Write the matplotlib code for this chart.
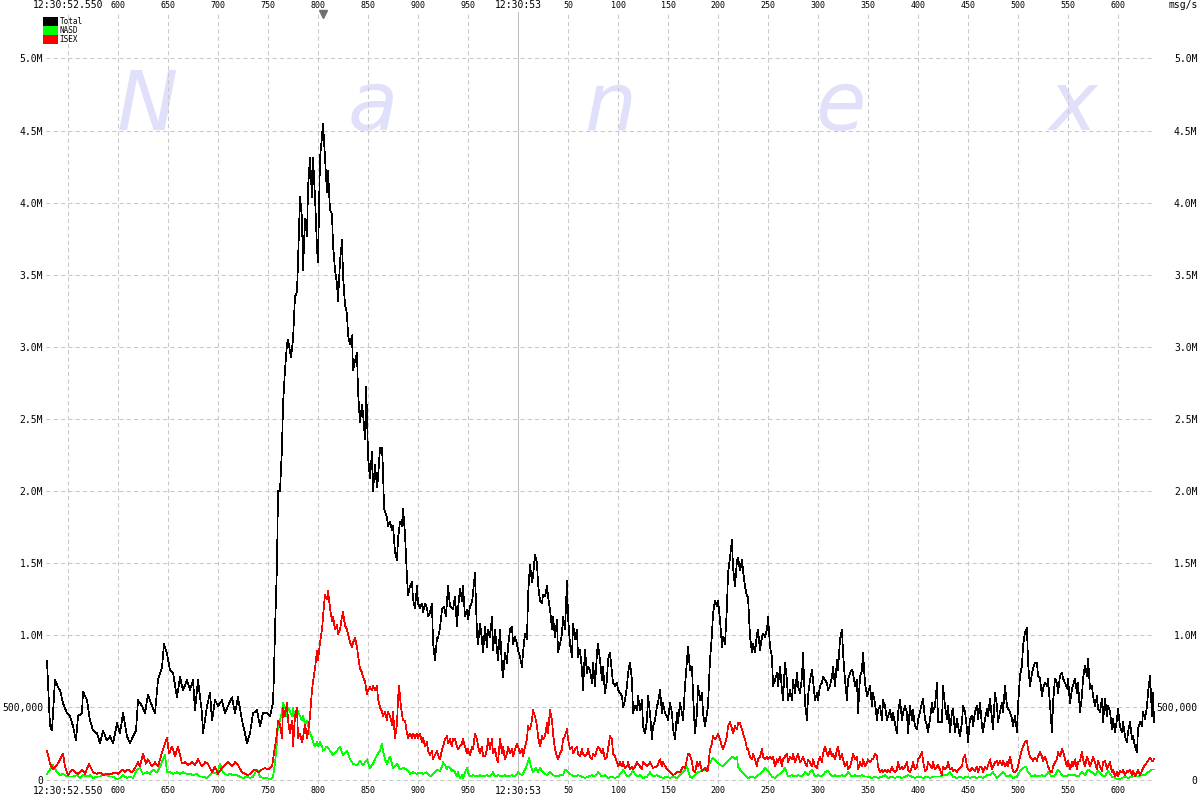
import matplotlib
matplotlib.use("Agg")
import matplotlib.pyplot as plt
import matplotlib.transforms as mtransforms
from matplotlib.patches import Patch

# message rates in millions of msg/s, time in ms after 12:30:52
total_t = [529, 532, 534, 537, 540, 542, 545, 549, 552, 555, 558, 560, 564, 565, 569, 572, 575, 579, 582, 585,
           589, 592, 595, 599, 602, 605, 609, 612, 615, 618, 620, 624, 627, 630, 634, 637, 640, 644, 646, 649,
           652, 655, 659, 662, 665, 669, 672, 675, 677, 680, 684, 685, 689, 692, 694, 697, 700, 704, 707, 710,
           714, 717, 720, 724, 727, 729, 732, 735, 739, 742, 745, 749, 752, 755,
           756, 757, 759, 760, 762, 764, 765, 767, 769, 770, 773, 775, 776, 777, 779, 780, 782, 784, 785, 787,
           789, 790, 792, 794, 795, 797, 799, 800, 802, 804, 805, 807, 809, 810, 812, 814, 815, 817, 819, 820,
           822, 824, 825, 827, 829, 830, 832, 834, 835, 837, 839, 840, 842, 844, 845, 847, 848, 849, 850, 852,
           854, 855, 857, 859, 860, 862, 864, 865, 866, 869, 870, 872, 874, 875, 877, 879, 880, 882, 884, 885,
           887, 889, 890, 892, 894, 895, 897, 899, 900, 902, 904, 905, 907, 909, 910, 912, 914, 915, 917, 919, 920,
           922, 924, 926, 928, 930, 932, 935, 937, 939, 940, 942, 944, 945, 947, 949, 950, 952, 954, 955, 957,
           959, 960, 962, 964, 965, 967, 969, 970, 972, 974, 975, 977, 979, 980, 982, 984, 985, 987, 989, 990,
           992, 994, 995, 997, 999, 1000, 1002, 1004, 1005, 1007, 1009, 1010, 1012, 1014, 1015, 1017, 1019, 1020,
           1022, 1024, 1025, 1027, 1029, 1030, 1032, 1034, 1035, 1037, 1039, 1040, 1042, 1044, 1045, 1047, 1049,
           1050, 1052, 1054, 1055, 1057, 1059, 1060, 1062, 1064, 1065, 1067, 1069, 1070, 1072, 1074, 1075, 1077,
           1079, 1080, 1082, 1084, 1085, 1087, 1089, 1090, 1092, 1094, 1095, 1097, 1099, 1100, 1102, 1104, 1105,
           1107, 1109, 1110, 1112, 1114, 1115, 1117, 1119, 1120, 1122, 1124, 1125, 1127, 1129, 1130, 1132, 1134,
           1135, 1137, 1139, 1140, 1142, 1144, 1145, 1147, 1149, 1150, 1152, 1154, 1155, 1157, 1159, 1160,
           1162, 1164, 1165, 1167, 1169, 1170, 1172, 1174, 1175, 1177, 1179, 1180, 1182, 1184, 1185, 1187, 1189,
           1190, 1192, 1194, 1195, 1197, 1199, 1200, 1202, 1204, 1205, 1207, 1209, 1210, 1212, 1214, 1215, 1217,
           1219, 1220, 1222, 1224, 1225, 1227, 1229, 1230, 1232, 1234, 1235, 1237, 1239, 1240, 1242, 1244, 1245,
           1247, 1249, 1250, 1252, 1254, 1255, 1257, 1259, 1260, 1262, 1264, 1265, 1267, 1269, 1270, 1272, 1274,
           1275, 1277, 1279, 1280, 1282, 1284, 1285, 1287, 1289, 1290, 1292, 1294, 1295, 1297, 1299, 1300, 1302,
           1304, 1305, 1307, 1309, 1310, 1312, 1314, 1315, 1317, 1319, 1320, 1322, 1324, 1325, 1327, 1329, 1330,
           1332, 1334, 1335, 1337, 1339, 1340, 1342, 1344, 1345, 1347, 1349, 1350, 1352, 1354, 1355, 1357, 1359,
           1360, 1362, 1364, 1365, 1367, 1369, 1370, 1372, 1374, 1375, 1377, 1379, 1380, 1382, 1384, 1385, 1387,
           1389, 1390, 1392, 1394, 1395, 1397, 1399, 1400,
           1402, 1404, 1405, 1407, 1409, 1410, 1412, 1414, 1415, 1417, 1419, 1420, 1422, 1424, 1425, 1427, 1429,
           1430, 1432, 1434, 1435, 1437, 1439, 1440, 1442, 1444, 1445, 1447, 1449, 1450, 1452, 1454, 1455, 1457,
           1459, 1460, 1462, 1464, 1465, 1467, 1469, 1470, 1472, 1474, 1475, 1477, 1479, 1480, 1482, 1484, 1485,
           1487, 1489, 1490, 1492, 1494, 1495, 1497, 1499, 1500, 1502, 1504, 1505, 1507, 1509, 1510, 1512, 1514,
           1515, 1517, 1519, 1520, 1522, 1524, 1525, 1527, 1529, 1530, 1532, 1534, 1535, 1537, 1539, 1540, 1542,
           1544, 1545, 1547, 1549, 1550, 1552, 1554, 1555, 1557, 1559, 1560, 1562, 1564, 1565, 1567, 1569, 1570,
           1572, 1574, 1575, 1577, 1579, 1580, 1582, 1584, 1585, 1587, 1589, 1590, 1592, 1594, 1595, 1597, 1599,
           1600, 1602, 1604, 1605, 1607, 1609, 1610, 1612, 1614, 1615, 1617, 1619, 1620, 1622, 1624, 1625, 1627,
           1629, 1630, 1632, 1634, 1635, 1636]
total_v = [0.82, 0.37, 0.34, 0.69, 0.64, 0.62, 0.53, 0.46, 0.44, 0.37, 0.27, 0.44, 0.46, 0.61, 0.55, 0.41, 0.34, 0.32, 0.25, 0.34,
           0.27, 0.30, 0.25, 0.39, 0.32, 0.46, 0.30, 0.25, 0.30, 0.34, 0.55, 0.51, 0.46, 0.59, 0.51, 0.46, 0.69, 0.78, 0.94, 0.87,
           0.76, 0.74, 0.57, 0.71, 0.62, 0.69, 0.62, 0.69, 0.48, 0.69, 0.46, 0.32, 0.51, 0.60, 0.41, 0.55, 0.51, 0.55, 0.46, 0.51,
           0.57, 0.46, 0.57, 0.41, 0.32, 0.25, 0.32, 0.46, 0.48, 0.37, 0.46, 0.46, 0.44, 0.53,
           0.74, 1.04, 1.49, 2.0, 2.0, 2.3, 2.6, 2.84, 3.02, 3.05, 2.93, 3.05, 3.2, 3.35, 3.38, 3.59, 4.04, 3.89, 3.53, 3.89,
           3.77, 4.1, 4.31, 4.04, 4.31, 4.04, 3.68, 3.59, 4.31, 4.46, 4.55, 4.31, 4.07, 4.22, 3.95, 3.92, 3.71, 3.53, 3.44, 3.32,
           3.59, 3.74, 3.5, 3.29, 3.23, 3.08, 3.02, 3.08, 2.84, 2.9, 2.96, 2.69, 2.48, 2.6, 2.54, 2.36, 2.72, 2.54, 2.24, 2.09,
           2.27, 2.0, 2.18, 2.03, 2.09, 2.3, 2.3, 2.15, 1.88, 1.82, 1.76, 1.79, 1.73, 1.76, 1.58, 1.52, 1.67, 1.79, 1.76, 1.88,
           1.7, 1.4, 1.28, 1.34, 1.37, 1.25, 1.19, 1.34, 1.22, 1.19, 1.22, 1.16, 1.22, 1.19, 1.13, 1.16, 1.22, 0.95, 0.83, 0.98, 0.98,
           1.05, 1.18, 1.2, 1.13, 1.34, 1.2, 1.18, 1.27, 1.06, 1.18, 1.32, 1.24, 1.34, 1.13, 1.18, 1.11, 1.2, 1.23, 1.29, 1.43,
           1.01, 0.94, 1.08, 0.97, 0.88, 1.06, 0.92, 1.04, 0.99, 1.13, 0.9, 1.04, 0.9, 0.83, 1.04, 0.78, 0.71, 0.88, 0.81, 0.92,
           1.04, 1.06, 0.94, 0.99, 0.94, 0.9, 0.85, 0.78, 0.88, 1.01, 0.97, 1.27, 1.49, 1.37, 1.41, 1.56, 1.5, 1.36,
           1.24, 1.22, 1.28, 1.27, 1.34, 1.27, 1.18, 1.04, 1.13, 0.99, 1.11, 0.88, 0.94, 1.01, 1.13, 1.04, 1.38,
           1.13, 0.94, 0.85, 1.08, 0.97, 1.04, 0.85, 0.9, 0.76, 0.62, 0.9, 0.74, 0.78, 0.76, 0.67, 0.81, 0.65,
           0.88, 0.94, 0.83, 0.69, 0.78, 0.6, 0.69, 0.83, 0.88, 0.74, 0.67, 0.65, 0.67, 0.62, 0.6, 0.58, 0.5,
           0.55, 0.65, 0.74, 0.81, 0.69, 0.46, 0.51, 0.48, 0.58, 0.48, 0.55, 0.37, 0.32, 0.41, 0.58, 0.46, 0.28,
           0.37, 0.41, 0.51, 0.53, 0.62, 0.46, 0.53, 0.46, 0.44, 0.41, 0.53, 0.46, 0.35, 0.28, 0.46, 0.39,
           0.53, 0.46, 0.41, 0.65, 0.83, 0.92, 0.76, 0.78, 0.6, 0.32, 0.46, 0.65, 0.55, 0.6, 0.46, 0.37, 0.46,
           0.51, 0.83, 1.01, 1.15, 1.24, 1.2, 1.24, 1.11, 0.92, 0.99, 0.94, 1.2, 1.43, 1.54, 1.66, 1.47, 1.34,
           1.52, 1.54, 1.45, 1.52, 1.45, 1.34, 1.27, 1.27, 0.99, 0.88, 0.94, 0.88, 1.01, 1.04, 0.9, 0.99, 1.01,
           0.99, 1.04, 1.13, 0.92, 0.85, 0.65, 0.69, 0.74, 0.65, 0.78, 0.62, 0.55, 0.81, 0.69, 0.55, 0.62, 0.55,
           0.69, 0.6, 0.74, 0.65, 0.6, 0.71, 0.88, 0.53, 0.41, 0.58, 0.69, 0.76, 0.69, 0.55, 0.6, 0.55, 0.65,
           0.67, 0.71, 0.69, 0.67, 0.62, 0.65, 0.71, 0.78, 0.65, 0.83, 0.76, 0.97, 1.04, 0.88, 0.69, 0.55, 0.69,
           0.74, 0.76, 0.74, 0.65, 0.69, 0.46, 0.71, 0.76, 0.88, 0.67, 0.58, 0.6, 0.65, 0.51, 0.6, 0.53, 0.41,
           0.48, 0.51, 0.41, 0.55, 0.51, 0.41, 0.44, 0.48, 0.41, 0.46, 0.39, 0.32, 0.46, 0.55, 0.41, 0.46, 0.51,
           0.46, 0.32, 0.51, 0.41, 0.48, 0.37, 0.35, 0.41,
           0.47, 0.53, 0.56, 0.42, 0.37, 0.33, 0.42, 0.53, 0.47, 0.51, 0.67, 0.4, 0.4, 0.4, 0.65, 0.51, 0.42,
           0.51, 0.33, 0.47, 0.49, 0.33, 0.42, 0.37, 0.3, 0.4, 0.51, 0.47, 0.35, 0.26, 0.42, 0.44, 0.37, 0.47,
           0.51, 0.42, 0.53, 0.37, 0.33, 0.42, 0.49, 0.44, 0.56, 0.42, 0.35, 0.6, 0.51, 0.4, 0.47, 0.53, 0.47,
           0.65, 0.51, 0.49, 0.47, 0.42, 0.37, 0.44, 0.33, 0.51, 0.72, 0.79, 0.93, 1.02, 1.05, 0.81, 0.65, 0.74,
           0.77, 0.81, 0.81, 0.72, 0.7, 0.58, 0.63, 0.67, 0.65, 0.7, 0.51, 0.33, 0.53, 0.7, 0.67, 0.6, 0.72,
           0.74, 0.7, 0.67, 0.63, 0.7, 0.53, 0.63, 0.65, 0.7, 0.6, 0.67, 0.47, 0.58, 0.7, 0.79, 0.72, 0.84,
           0.63, 0.65, 0.58, 0.51, 0.58, 0.49, 0.47, 0.56, 0.4, 0.56, 0.44, 0.51, 0.47, 0.35, 0.42, 0.33, 0.42,
           0.49, 0.37, 0.33, 0.4, 0.3, 0.26, 0.33, 0.4, 0.28, 0.3, 0.23, 0.19, 0.35, 0.4, 0.37, 0.47, 0.42,
           0.51, 0.6, 0.72, 0.44, 0.6, 0.4]

nasd_t = [529, 532, 535, 539, 542, 545, 549, 552, 555, 559, 562, 565, 569, 572, 575, 579, 582, 585, 589, 592,
          595, 599, 602, 605, 609, 612, 615, 619, 622, 625, 629, 632, 635, 639, 642, 645, 647, 649, 652, 655,
          659, 662, 665, 669, 672, 675, 679, 682, 685, 689, 692, 695, 699, 702, 705, 709, 712, 715, 719, 722,
          725, 729, 732, 735, 739, 742, 745, 749, 752, 755,
          757, 759, 760, 762, 764, 765, 767, 769, 770, 772, 774, 775, 777, 779, 780, 782, 784, 785, 787, 789,
          790, 792, 794, 795, 797, 799, 800, 802, 804, 805, 809, 812, 815, 819, 822, 825, 829, 832, 835, 839,
          842, 845, 849, 852, 855, 859, 862, 864, 865, 867, 869, 872, 875, 879, 882, 885, 889, 892, 895, 899,
          902, 905, 909, 912, 915, 919,
          922, 924, 925, 927, 929, 930, 932, 934, 935, 937, 939, 940, 942, 944, 945, 947, 949, 950, 952, 955,
          959, 962, 965, 969, 972, 975, 977, 980, 984, 987, 990, 994, 997, 1000, 1004, 1007, 1009, 1011, 1013,
          1015, 1018, 1020, 1022, 1025, 1029, 1032, 1035, 1039, 1042, 1045, 1047, 1050, 1054, 1057, 1060, 1064,
          1067, 1070, 1074, 1077, 1080, 1084, 1087, 1090, 1094, 1097, 1100, 1104, 1105, 1109, 1112, 1115, 1119,
          1122, 1125, 1129, 1132, 1135, 1139, 1142, 1145, 1149, 1152, 1155, 1159, 1162, 1165, 1169, 1172,
          1174, 1177, 1180, 1184, 1187, 1190, 1192, 1194, 1195, 1199, 1202, 1205, 1209, 1212, 1215, 1217, 1219,
          1220, 1224, 1227, 1230, 1234, 1237, 1240, 1244, 1247, 1250, 1254, 1257, 1260, 1264, 1267, 1270, 1274,
          1277, 1280, 1284, 1287, 1290, 1294, 1297, 1300, 1304, 1307, 1310, 1314, 1317, 1320, 1324, 1327, 1330,
          1334, 1337, 1340, 1344, 1347, 1350, 1354, 1357, 1360, 1364, 1367, 1370, 1374, 1377, 1380, 1384, 1387,
          1390, 1394, 1397, 1400,
          1402, 1405, 1409, 1412, 1415, 1419, 1422, 1425, 1429, 1432, 1435, 1439, 1442, 1445, 1449, 1452, 1455,
          1459, 1462, 1465, 1469, 1472, 1475, 1479, 1482, 1485, 1489, 1492, 1495, 1499, 1502, 1505, 1508, 1510,
          1514, 1517, 1520, 1524, 1527, 1530, 1534, 1537, 1540, 1544, 1547, 1550, 1554, 1557, 1560, 1564, 1567,
          1570, 1574, 1577, 1580, 1584, 1587, 1590, 1594, 1597, 1600, 1604, 1607, 1610, 1614, 1617, 1620, 1624,
          1627, 1630, 1634, 1636]
nasd_v = [0.04, 0.07, 0.1, 0.05, 0.03, 0.04, 0.02, 0.02, 0.02, 0.03, 0.01, 0.03, 0.02, 0.03, 0.01, 0.02, 0.02, 0.04, 0.03, 0.02,
          0.02, 0.0, 0.01, 0.03, 0.01, 0.02, 0.01, 0.07, 0.08, 0.04, 0.05, 0.04, 0.07, 0.05, 0.09, 0.14, 0.17, 0.05, 0.05, 0.04,
          0.05, 0.04, 0.05, 0.04, 0.04, 0.03, 0.04, 0.02, 0.02, 0.01, 0.03, 0.05, 0.04, 0.11, 0.05, 0.03, 0.04, 0.03, 0.03, 0.02,
          0.01, 0.02, 0.01, 0.02, 0.07, 0.02, 0.01, 0.01, 0.0, 0.02,
          0.11, 0.26, 0.38, 0.41, 0.47, 0.53, 0.5, 0.44, 0.5, 0.47, 0.44, 0.5, 0.41, 0.5, 0.47, 0.44, 0.41, 0.44, 0.38, 0.41,
          0.38, 0.32, 0.29, 0.26, 0.23, 0.26, 0.23, 0.26, 0.23, 0.2, 0.23, 0.2, 0.17, 0.2, 0.23, 0.17, 0.2, 0.14, 0.11, 0.1,
          0.13, 0.1, 0.14, 0.08, 0.11, 0.17, 0.2, 0.25, 0.2, 0.14, 0.11, 0.16, 0.08, 0.11, 0.07, 0.08, 0.07, 0.04, 0.05, 0.04,
          0.05, 0.04, 0.05, 0.02, 0.04, 0.07,
          0.06, 0.09, 0.12, 0.1, 0.07, 0.09, 0.08, 0.06, 0.07, 0.05, 0.02, 0.05, 0.01, 0.03, 0.01, 0.05, 0.08, 0.05, 0.02, 0.03,
          0.02, 0.03, 0.02, 0.03, 0.02, 0.05, 0.02, 0.03, 0.02, 0.03, 0.02, 0.03, 0.02, 0.05, 0.03, 0.07, 0.1, 0.15, 0.09,
          0.05, 0.08, 0.05, 0.08, 0.05, 0.03, 0.05, 0.03, 0.02, 0.03, 0.03, 0.07, 0.05, 0.03, 0.02, 0.03, 0.02,
          0.01, 0.02, 0.03, 0.02, 0.05, 0.02, 0.03, 0.01, 0.02, 0.01, 0.02, 0.05, 0.07, 0.02, 0.03, 0.06, 0.02,
          0.03, 0.01, 0.02, 0.05, 0.02, 0.03, 0.02, 0.01, 0.02, 0.01, 0.02, 0.01, 0.03, 0.05, 0.09, 0.02,
          0.01, 0.03, 0.05, 0.06, 0.07, 0.09, 0.12, 0.14, 0.15, 0.12, 0.1, 0.09, 0.12, 0.14, 0.16, 0.14, 0.16,
          0.09, 0.05, 0.03, 0.01, 0.02, 0.01, 0.03, 0.05, 0.08, 0.06, 0.02, 0.01, 0.03, 0.05, 0.08, 0.02, 0.03,
          0.02, 0.03, 0.02, 0.05, 0.03, 0.07, 0.02, 0.03, 0.02, 0.05, 0.06, 0.02, 0.03, 0.02, 0.03, 0.02, 0.05,
          0.02, 0.03, 0.02, 0.03, 0.02, 0.02, 0.01, 0.02, 0.01, 0.02, 0.03, 0.01, 0.02, 0.01, 0.02, 0.01, 0.02,
          0.03, 0.02, 0.01, 0.02,
          0.02, 0.01, 0.02, 0.01, 0.02, 0.02, 0.02, 0.03, 0.03, 0.05, 0.02, 0.01, 0.02, 0.01, 0.02, 0.01, 0.02,
          0.01, 0.02, 0.01, 0.03, 0.03, 0.05, 0.01, 0.03, 0.05, 0.02, 0.03, 0.01, 0.02, 0.06, 0.08, 0.09, 0.05,
          0.02, 0.03, 0.02, 0.03, 0.02, 0.05, 0.02, 0.03, 0.07, 0.03, 0.02, 0.03, 0.03, 0.03, 0.02, 0.05, 0.03,
          0.07, 0.05, 0.03, 0.06, 0.03, 0.02, 0.06, 0.02, 0.01, 0.0, 0.01, 0.02, 0.01, 0.02, 0.02, 0.02, 0.03,
          0.03, 0.05, 0.07, 0.07]

isex_t = [529, 532, 535, 539, 542, 545, 547, 550, 554, 557, 560, 564, 567, 571, 575, 579, 582, 585, 589, 594,
          597, 600, 604, 607, 610, 614, 617, 620, 622, 625, 628, 630, 634, 637, 640, 644, 646, 649, 651, 654,
          657, 660, 664, 667, 670, 674, 677, 680, 684, 687, 690, 694, 697, 700, 704, 707, 710, 714, 717, 720,
          724, 727, 730, 734, 737, 740, 744, 747, 750, 754,
          757, 759, 760, 762, 764, 765, 767, 769, 770, 772, 774, 775, 777, 779, 780, 782, 784, 785, 787, 789,
          790, 792, 794, 795, 797, 799, 800, 802, 804, 805, 807, 809, 810, 812, 814, 815, 817, 819, 820, 822,
          824, 825, 827, 829, 830, 832, 834, 835, 837, 839, 840, 842, 844, 845, 847, 849, 850, 852, 854, 855,
          857, 859, 860, 862, 864, 865, 867, 869, 870, 872, 874, 875, 877, 879, 880, 881, 883, 885, 887, 889,
          890, 892, 894, 895, 897, 899, 900, 902, 904, 905, 907, 909, 910, 912, 914, 915, 917, 919, 920,
          922, 924, 925, 927, 929, 930, 932, 934, 935, 937, 939, 940, 942, 944, 945, 947, 949, 950, 952, 954,
          955, 957, 959, 960, 962, 964, 965, 967, 969, 970, 972, 974, 975, 977, 979, 980, 982, 984, 985, 987,
          989, 990, 992, 994, 995, 997, 999, 1000, 1002, 1004, 1005, 1007, 1009, 1010, 1012, 1014, 1015, 1017,
          1019, 1020, 1022, 1024, 1025, 1027, 1029, 1030, 1032, 1034, 1035, 1037, 1039, 1040, 1042, 1044, 1045,
          1047, 1049, 1050, 1052, 1054, 1055, 1057, 1059, 1060, 1062, 1064, 1065, 1067, 1069, 1070, 1072, 1074,
          1075, 1077, 1079, 1080, 1082, 1084, 1085, 1087, 1089, 1090, 1092, 1094, 1095, 1097, 1099, 1100, 1102,
          1104, 1105, 1107, 1109, 1110, 1112, 1114, 1115, 1117, 1119, 1122, 1124, 1125, 1129, 1132, 1135, 1139,
          1142, 1144, 1145, 1149, 1152, 1155, 1159, 1162, 1165, 1167, 1169, 1170, 1172,
          1174, 1175, 1177, 1179, 1180, 1182, 1184, 1185, 1187, 1189, 1190, 1192, 1194, 1195, 1197, 1199, 1200,
          1202, 1204, 1205, 1207, 1209, 1210, 1212, 1214, 1215, 1217, 1219, 1220, 1222, 1224, 1225, 1227, 1229,
          1230, 1232, 1234, 1235, 1237, 1239, 1240, 1242, 1244, 1245, 1247, 1249, 1250, 1252, 1254, 1255, 1257,
          1259, 1260, 1262, 1264, 1265, 1267, 1269, 1270, 1272, 1274, 1275, 1277, 1279, 1280, 1282, 1284, 1285,
          1287, 1289, 1290, 1292, 1294, 1295, 1297, 1299, 1300, 1302, 1304, 1305, 1307, 1309, 1310, 1312, 1314,
          1315, 1317, 1319, 1320, 1322, 1324, 1325, 1327, 1329, 1330, 1332, 1334, 1335, 1337, 1339, 1340, 1342,
          1344, 1345, 1347, 1349, 1350, 1352, 1354, 1355, 1357, 1359, 1360, 1362, 1364, 1365, 1367, 1369, 1370,
          1372, 1374, 1375, 1377, 1379, 1380, 1382, 1384, 1385, 1387, 1389, 1390, 1392, 1394, 1395, 1397, 1399,
          1400,
          1402, 1404, 1405, 1407, 1409, 1410, 1412, 1414, 1415, 1417, 1419, 1420, 1422, 1424, 1425, 1427, 1429,
          1430, 1432, 1434, 1435, 1437, 1439, 1440, 1442, 1444, 1445, 1447, 1449, 1450, 1452, 1454, 1455, 1457,
          1459, 1460, 1462, 1464, 1465, 1467, 1469, 1470, 1472, 1474, 1475, 1477, 1479, 1480, 1482, 1484, 1485,
          1487, 1489, 1490, 1492, 1494, 1495, 1497, 1499, 1500, 1502, 1504, 1505, 1507, 1509, 1510, 1512, 1514,
          1515, 1517, 1519, 1520, 1522, 1524, 1525, 1527, 1529, 1530, 1532, 1534, 1535, 1537, 1539, 1540, 1542,
          1544, 1545, 1547, 1549, 1550, 1552, 1554, 1555, 1557, 1559, 1560, 1562, 1564, 1565, 1567, 1569, 1570,
          1572, 1574, 1575, 1577, 1579, 1580, 1582, 1584, 1585, 1587, 1589, 1590, 1592, 1594, 1595, 1597, 1599,
          1600, 1602, 1604, 1605, 1607, 1609, 1610, 1612, 1614, 1615, 1617, 1619, 1620, 1622, 1624, 1625, 1627,
          1629, 1630, 1632, 1634, 1635, 1636]
isex_v = [0.2, 0.11, 0.07, 0.1, 0.14, 0.18, 0.09, 0.03, 0.07, 0.05, 0.04, 0.07, 0.04, 0.11, 0.05, 0.04, 0.05, 0.03, 0.04, 0.04,
          0.05, 0.04, 0.07, 0.05, 0.07, 0.05, 0.08, 0.12, 0.09, 0.18, 0.11, 0.14, 0.09, 0.12, 0.09, 0.19, 0.23, 0.29, 0.18, 0.23,
          0.16, 0.23, 0.11, 0.12, 0.1, 0.12, 0.1, 0.14, 0.09, 0.12, 0.11, 0.05, 0.09, 0.04, 0.08, 0.1, 0.12, 0.09, 0.12, 0.1,
          0.05, 0.04, 0.03, 0.05, 0.07, 0.05, 0.07, 0.08, 0.07, 0.09,
          0.23, 0.32, 0.41, 0.38, 0.29, 0.5, 0.44, 0.53, 0.41, 0.32, 0.41, 0.23, 0.44, 0.5, 0.29, 0.32, 0.26, 0.29, 0.38, 0.29,
          0.32, 0.44, 0.62, 0.68, 0.77, 0.89, 0.83, 0.95, 1.04, 1.13, 1.28, 1.25, 1.31, 1.19, 1.1, 1.13, 1.04, 1.07, 1.01, 1.04,
          1.13, 1.16, 1.07, 1.04, 1.01, 0.95, 0.92, 0.95, 0.98, 0.92, 0.86, 0.77, 0.74, 0.71, 0.68, 0.59, 0.62, 0.64, 0.62, 0.65,
          0.62, 0.65, 0.56, 0.5, 0.47, 0.44, 0.47, 0.41, 0.47, 0.44, 0.38, 0.47, 0.29, 0.38, 0.56, 0.65, 0.5, 0.41, 0.41, 0.32,
          0.29, 0.32, 0.29, 0.32, 0.29, 0.32, 0.29, 0.32, 0.26, 0.29, 0.23, 0.26, 0.2, 0.17, 0.2, 0.14, 0.17, 0.2, 0.17,
          0.14, 0.21, 0.23, 0.28, 0.3, 0.25, 0.28, 0.23, 0.28, 0.28, 0.23, 0.21, 0.23, 0.25, 0.28, 0.23, 0.18, 0.21, 0.17, 0.23,
          0.21, 0.32, 0.28, 0.23, 0.18, 0.23, 0.16, 0.16, 0.21, 0.28, 0.21, 0.28, 0.18, 0.21, 0.14, 0.12, 0.28, 0.18, 0.23, 0.14,
          0.18, 0.23, 0.18, 0.21, 0.16, 0.21, 0.25, 0.23, 0.18, 0.21, 0.16, 0.23, 0.28, 0.37, 0.35, 0.41, 0.48, 0.44,
          0.37, 0.3, 0.23, 0.3, 0.28, 0.3, 0.39, 0.32, 0.48, 0.41, 0.32, 0.21, 0.16, 0.14, 0.18, 0.21, 0.28,
          0.3, 0.35, 0.28, 0.21, 0.23, 0.18, 0.21, 0.23, 0.18, 0.16, 0.21, 0.18, 0.16, 0.18, 0.21, 0.16, 0.14,
          0.18, 0.16, 0.21, 0.23, 0.21, 0.18, 0.21, 0.14, 0.16, 0.21, 0.3, 0.28, 0.18, 0.16, 0.12, 0.09, 0.12,
          0.09, 0.12, 0.08, 0.09, 0.12, 0.07, 0.09, 0.07, 0.09, 0.12, 0.09, 0.07, 0.12, 0.09, 0.12, 0.08, 0.09,
          0.14, 0.09, 0.12, 0.07, 0.05, 0.03, 0.05, 0.05, 0.09, 0.08, 0.14, 0.18, 0.17,
          0.12, 0.07, 0.05, 0.12, 0.09, 0.12, 0.06, 0.07, 0.08, 0.06, 0.07, 0.21, 0.25, 0.3, 0.28, 0.3, 0.32,
          0.28, 0.23, 0.21, 0.25, 0.3, 0.37, 0.4, 0.35, 0.32, 0.37, 0.35, 0.39, 0.39, 0.35, 0.32, 0.28, 0.21,
          0.21, 0.16, 0.14, 0.18, 0.14, 0.09, 0.14, 0.16, 0.21, 0.16, 0.14, 0.16, 0.14, 0.16, 0.14, 0.16, 0.09,
          0.14, 0.12, 0.16, 0.09, 0.14, 0.16, 0.18, 0.12, 0.16, 0.14, 0.18, 0.12, 0.16, 0.18, 0.12, 0.14, 0.16,
          0.12, 0.09, 0.14, 0.12, 0.09, 0.14, 0.09, 0.08, 0.12, 0.16, 0.12, 0.18, 0.23, 0.18, 0.16, 0.21, 0.16,
          0.18, 0.14, 0.21, 0.23, 0.14, 0.18, 0.14, 0.09, 0.12, 0.07, 0.09, 0.14, 0.18, 0.14, 0.16, 0.07, 0.12,
          0.09, 0.14, 0.09, 0.12, 0.14, 0.12, 0.14, 0.14, 0.18, 0.16, 0.09, 0.05, 0.07, 0.05, 0.07, 0.05, 0.07,
          0.05, 0.09, 0.07, 0.05, 0.07, 0.12, 0.07, 0.09, 0.07, 0.09, 0.12, 0.07, 0.05, 0.09, 0.12, 0.07, 0.09,
          0.14,
          0.16, 0.19, 0.13, 0.06, 0.07, 0.12, 0.1, 0.08, 0.12, 0.07, 0.09, 0.1, 0.07, 0.03, 0.09, 0.07, 0.09,
          0.12, 0.07, 0.08, 0.06, 0.07, 0.05, 0.07, 0.08, 0.09, 0.14, 0.17, 0.09, 0.07, 0.06, 0.08, 0.07, 0.06,
          0.09, 0.05, 0.09, 0.08, 0.05, 0.09, 0.07, 0.1, 0.14, 0.07, 0.09, 0.12, 0.13, 0.1, 0.13, 0.1, 0.13,
          0.09, 0.12, 0.09, 0.16, 0.09, 0.06, 0.05, 0.07, 0.09, 0.16, 0.21, 0.23, 0.26, 0.27, 0.21, 0.16, 0.14,
          0.13, 0.15, 0.13, 0.16, 0.19, 0.16, 0.13, 0.16, 0.12, 0.09, 0.06, 0.05, 0.09, 0.12, 0.14, 0.19, 0.16,
          0.21, 0.2, 0.14, 0.09, 0.13, 0.07, 0.12, 0.09, 0.14, 0.07, 0.12, 0.13, 0.19, 0.14, 0.09, 0.16, 0.14,
          0.09, 0.13, 0.16, 0.12, 0.07, 0.13, 0.09, 0.06, 0.12, 0.13, 0.07, 0.09, 0.12, 0.05, 0.07, 0.02, 0.05,
          0.02, 0.06, 0.05, 0.07, 0.03, 0.06, 0.05, 0.07, 0.03, 0.06, 0.02, 0.05, 0.07, 0.03, 0.06, 0.08, 0.1,
          0.12, 0.13, 0.15, 0.13, 0.13, 0.14]

# axis ticks (ms after 12:30:52) and labels
x_ticks = [550, 600, 650, 700, 750, 800, 850, 900, 950, 1000, 1050, 1100, 1150, 1200, 1250, 1300,
           1350, 1400, 1450, 1500, 1550, 1600]
x_labels = ["12:30:52.550", "600", "650", "700", "750", "800", "850", "900", "950", "12:30:53", "50",
            "100", "150", "200", "250", "300", "350", "400", "450", "500", "550", "600"]
y_ticks = [0, 0.5, 1.0, 1.5, 2.0, 2.5, 3.0, 3.5, 4.0, 4.5, 5.0]
y_labels = ["0", "500,000", "1.0M", "1.5M", "2.0M", "2.5M", "3.0M", "3.5M", "4.0M", "4.5M", "5.0M"]
peak_marker_ms = 805

MONO = "DejaVu Sans Mono"
GRID = "#c8c8c8"

fig = plt.figure(figsize=(12, 8), dpi=100)
fig.patch.set_facecolor("white")
ax = fig.add_axes([46 / 1200, 16 / 800, 1109 / 1200, 772 / 800])
ax.set_xlim(528, 1637)
ax.set_ylim(-0.031, 5.322)
for s in ax.spines.values():
    s.set_visible(False)

# watermark
for letter, xf in zip("Nanex", [147, 373, 610, 840, 1072]):
    ax.text((xf - 46) / 1109, (784 - 130) / 772, letter, transform=ax.transAxes,
            fontsize=59, style="italic", color="#e0e0fa", ha="center", va="baseline",
            family="DejaVu Sans", zorder=0.1)

# grid
for yv in y_ticks:
    ax.axhline(yv, color=GRID, lw=0.75, ls=(0, (4, 3)), zorder=0.5)
for xv in x_ticks:
    if xv == 1000:
        ax.axvline(xv, color="#c0c0c0", lw=0.75, zorder=0.5)
    else:
        ax.axvline(xv, color=GRID, lw=0.75, ls=(0, (4, 3)), zorder=0.5)

ax.plot(total_t, total_v, color="black", lw=0.5, zorder=3, antialiased=False)
ax.plot(nasd_t, nasd_v, color="#00ff00", lw=0.5, zorder=4, antialiased=False)
ax.plot(isex_t, isex_v, color="#ff0000", lw=0.5, zorder=5, antialiased=False)

# peak marker at the top
trans = mtransforms.blended_transform_factory(ax.transData, ax.transAxes)
ax.plot([peak_marker_ms], [1 - 1.5 / 772], marker="v", ms=6, color="#707070",
        transform=trans, clip_on=False, zorder=6)

# x tick labels top and bottom
ax.set_xticks(x_ticks)
ax.set_xticklabels(x_labels)
ax.tick_params(axis="x", length=0, labeltop=True, labelbottom=True, pad=1.5)
for tick in ax.xaxis.get_major_ticks():
    for lab in (tick.label1, tick.label2):
        lab.set_family(MONO)
        lab.set_fontsize(7 if ":" in lab.get_text() else 6)

# y tick labels left and right
ax.set_yticks(y_ticks)
ax.set_yticklabels(y_labels, family=MONO, fontsize=7)
ax.tick_params(axis="y", length=0, pad=2)
ax2 = ax.twinx()
ax2.set_ylim(ax.get_ylim())
ax2.set_yticks(y_ticks)
ax2.set_yticklabels(y_labels, family=MONO, fontsize=7, ha="right")
ax2.tick_params(axis="y", length=0, pad=30.5)
for s in ax2.spines.values():
    s.set_visible(False)

fig.text(1198 / 1200, 1 - 5 / 800, "msg/s", family=MONO, fontsize=7, ha="right", va="center")

handles = [Patch(facecolor="black"), Patch(facecolor="#00ff00"), Patch(facecolor="#ff0000")]
fig.legend(handles, ["Total", "NASD", "ISEX"], loc="upper left",
           bbox_to_anchor=(43 / 1200, 1 - 17 / 800), frameon=False,
           prop={"family": MONO, "size": 5.5}, borderpad=0, borderaxespad=0,
           handlelength=2.0, handleheight=1.45, handletextpad=0.15, labelspacing=0)

fig.savefig("out.png", dpi=100, facecolor="white")
